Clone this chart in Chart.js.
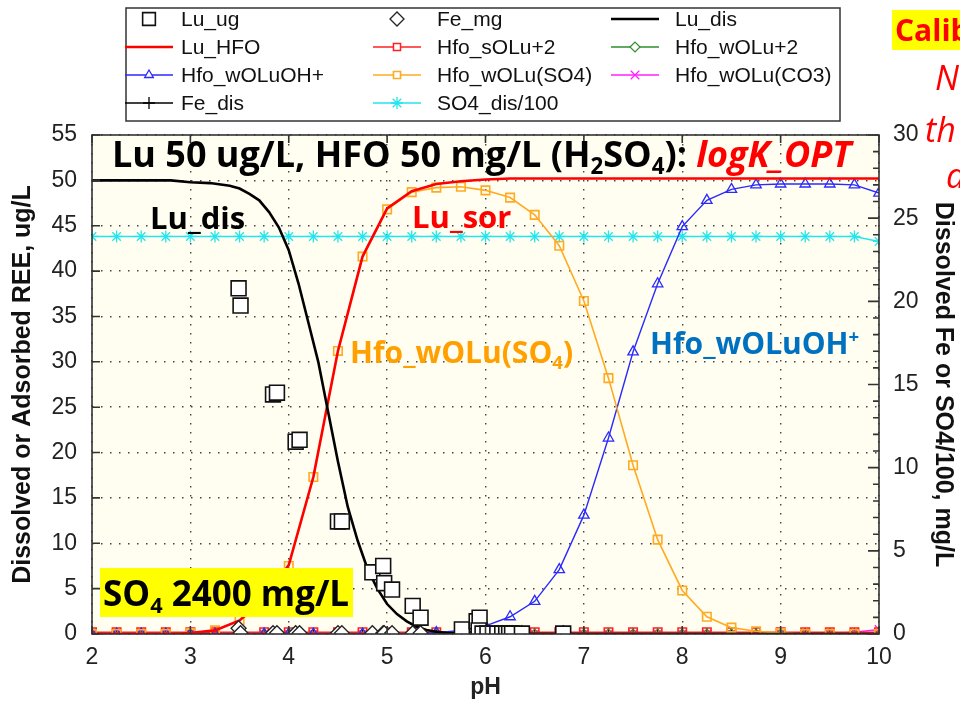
<!DOCTYPE html>
<html>
<head>
<meta charset="utf-8">
<script src="https://cdn.jsdelivr.net/npm/chart.js@4.4.1/dist/chart.umd.min.js"></script>
<style>
html,body{margin:0;padding:0;background:#fff}
canvas{display:block}
</style>
</head>
<body>
<canvas id="chart" width="960" height="708"></canvas>
<script>
// model run, pH in 0.25 steps
const phModel=[2,2.25,2.5,2.75,3,3.25,3.5,3.75,4,4.25,4.5,4.75,5,5.25,5.5,5.75,6,6.25,6.5,6.75,7,7.25,7.5,7.75,8,8.25,8.5,8.75,9,9.25,9.5,9.75,10];
const luHfo=[0,0,0,0,0.1,0.4,1.5,3.8,7.6,17.3,31.2,41.6,46.9,48.8,49.6,49.9,50.1,50.2,50.2,50.2,50.2,50.2,50.2,50.2,50.2,50.2,50.2,50.2,50.2,50.2,50.2,50.2,50.2];
const hfoSOLu2=[0.2,0.2,0.2,0.2,0.2,0.2,0.2,0.2,0.2,0.2,0.2,0.2,0.2,0.2,0.2,0.2,0.2,0.2,0.2,0.2,0.2,0.2,0.2,0.2,0.2,0.2,0.2,0.2,0.2,0.2,0.2,0.2,0.2];
const hfoWOLu2=[0,0,0,0,0,0,0,0,0,0,0,0,0,0,0,0,0,0,0,0,0,0,0,0,0,0,0,0,0,0,0,0,0];
const hfoWOLuOH=[0,0,0,0,0,0,0,0,0,0,0,0,0,0.05,0.15,0.4,0.9,1.9,3.6,7.1,13.1,21.6,31.1,38.6,44.9,47.8,49.0,49.5,49.6,49.6,49.6,49.5,48.6];
const hfoWOLuSO4=[0,0,0,0,0.1,0.4,1.5,3.8,7.5,17.3,31.2,41.6,46.8,48.7,49.2,49.3,48.9,48.1,46.2,42.8,36.7,28.2,18.6,10.4,4.8,1.9,0.7,0.3,0.1,0,0,0,0];
const hfoWOLuCO3=[0,0,0,0,0,0,0,0,0,0,0,0,0,0,0,0,0,0,0,0,0,0,0,0,0,0,0,0,0,0,0.05,0.2,0.5];
const so4Dis100=[23.9,23.9,23.9,23.9,23.9,23.9,23.9,23.9,23.9,23.9,23.9,23.9,23.9,23.9,23.9,23.9,23.9,23.9,23.9,23.9,23.9,23.9,23.9,23.9,23.9,23.9,23.9,23.9,23.9,23.9,23.9,23.9,23.6];
const feDis=[0,0,0,0,0,0,0,0,0,0,0,0,0,0,0,0,0,0,0,0,0,0,0,0,0,0,0,0,0,0,0,0,0];

// dissolved Lu, finer steps through the edge
const phDis=[2,2.5,2.8,3.0,3.2,3.4,3.5,3.6,3.7,3.8,3.9,4.0,4.1,4.2,4.3,4.4,4.5,4.6,4.7,4.8,4.9,5.0,5.1,5.2,5.3,5.4,5.5,5.6,5.8,6,7,8,9,10];
const luDis=[50,50,50,49.8,49.7,49.4,49.1,48.5,47.8,46.5,44.8,42.3,38.6,34.3,30.0,24.5,19.0,14.0,10.3,7.2,5.0,3.3,2.2,1.4,0.8,0.45,0.25,0.12,0.05,0.02,0,0,0,0];

// measured samples
const phLab=[3.49,3.51,3.84,3.88,4.07,4.11,4.50,4.54,4.85,4.96,4.97,5.05,5.26,5.34,5.76,5.91,5.94,5.93,5.97,6.02,6.12,6.17,6.21,6.24,6.27,6.37,6.79];
const luUg=[38.1,36.2,26.4,26.6,21.2,21.4,12.4,12.4,6.8,7.5,5.6,4.9,3.1,1.8,0.5,1.4,1.8,0.4,0.05,0.05,0.05,0.05,0.05,0.05,0.05,0.05,0.05];
const feMg=[0.35,0.05,0.05,0.05,0.05,0.05,0.05,0.05,0.05,0.05,0.05,0.05,0.05,0.05,0.05,0.05,0.05,0.05,0.05,0.05,0.05,0.05,0.05,0.05,0.05,0.05,0.05];

const xTicks=[2,3,4,5,6,7,8,9,10];
const legendOrder=['Lu_ug','Fe_mg','Lu_dis','Lu_HFO','Hfo_sOLu+2','Hfo_wOLu+2','Hfo_wOLuOH+','Hfo_wOLu(SO4)','Hfo_wOLu(CO3)','Fe_dis','SO4_dis/100'];

const pts=(xs,ys)=>xs.map((x,i)=>({x:x,y:ys[i]}));
const ARIAL='"Liberation Sans", Arial, sans-serif';
const CAL='"Open Sans", sans-serif';

const datasets=[
  {label:'Lu_ug',data:pts(phLab,luUg),showLine:false,pointStyle:'rect',pointRadius:10.5,borderColor:'#111',backgroundColor:'#fff',pointBorderWidth:1.6,legendR:9},
  {label:'Fe_mg',data:pts(phLab,feMg),yAxisID:'y2',showLine:false,pointStyle:'rectRot',pointRadius:7.5,borderColor:'#222',backgroundColor:'#fff',pointBorderWidth:1.3,legendR:7},
  {label:'Lu_dis',data:pts(phDis,luDis),borderColor:'#000',borderWidth:2.6,pointRadius:0},
  {label:'Lu_HFO',data:pts(phModel,luHfo),borderColor:'#ff0000',borderWidth:2.6,pointRadius:0},
  {label:'Hfo_wOLu(SO4)',data:pts(phModel,hfoWOLuSO4),borderColor:'#ffaa22',borderWidth:1.6,pointStyle:'rect',pointRadius:6,backgroundColor:'rgba(0,0,0,0)',pointBorderWidth:1.6,legendR:5},
  {label:'Hfo_wOLuOH+',data:pts(phModel,hfoWOLuOH),borderColor:'#2a2aff',borderWidth:1.4,pointStyle:'triangle',pointRadius:6,backgroundColor:'rgba(0,0,0,0)',pointBorderWidth:1.3,legendR:5},
  {label:'SO4_dis/100',data:pts(phModel,so4Dis100),yAxisID:'y2',borderColor:'#22e5ee',borderWidth:1.6,pointStyle:'star',pointRadius:6,backgroundColor:'rgba(0,0,0,0)',pointBorderWidth:1.3,legendR:6},
  {label:'Hfo_sOLu+2',data:pts(phModel,hfoSOLu2),borderColor:'#ff2020',borderWidth:1.6,pointStyle:'rect',pointRadius:6,backgroundColor:'rgba(0,0,0,0)',pointBorderWidth:1.5,legendR:5},
  {label:'Hfo_wOLu+2',data:pts(phModel,hfoWOLu2),borderColor:'#2f8f2f',borderWidth:1.4,pointStyle:'rectRot',pointRadius:5,backgroundColor:'rgba(0,0,0,0)',pointBorderWidth:1.2,legendR:5},
  {label:'Hfo_wOLu(CO3)',data:pts(phModel,hfoWOLuCO3),borderColor:'#ff22ff',borderWidth:1.4,pointStyle:'crossRot',pointRadius:6,backgroundColor:'rgba(0,0,0,0)',pointBorderWidth:1.3,legendR:6},
  {label:'Fe_dis',data:pts(phModel,feDis),yAxisID:'y2',borderColor:'#000',borderWidth:1.6,pointStyle:'cross',pointRadius:6,backgroundColor:'rgba(0,0,0,0)',pointBorderWidth:1.3,legendR:6}
];
datasets.forEach(d=>{d.pointBackgroundColor=d.backgroundColor;d.pointBorderColor=d.borderColor;d.tension=0;d.fill=false;});

// cream plot background
const plotBg={id:'plotBg',beforeDraw(c){const a=c.chartArea,ctx=c.ctx;ctx.save();ctx.fillStyle='#fffef0';ctx.fillRect(a.left,a.top,a.right-a.left,a.bottom-a.top);ctx.restore();}};

// frame with inward tick marks
const frame={id:'frame',afterDatasetsDraw(c){
  const a=c.chartArea,ctx=c.ctx,sx=c.scales.x,sy=c.scales.y,sy2=c.scales.y2;
  ctx.save();
  ctx.strokeStyle='#333';ctx.lineWidth=1.6;
  ctx.strokeRect(a.left,a.top,a.right-a.left,a.bottom-a.top);
  ctx.beginPath();
  xTicks.forEach(v=>{const px=sx.getPixelForValue(v);ctx.moveTo(px,a.bottom);ctx.lineTo(px,a.bottom-8);ctx.moveTo(px,a.top);ctx.lineTo(px,a.top+8);});
  for(let v=0;v<=55;v+=5){const py=sy.getPixelForValue(v);ctx.moveTo(a.left,py);ctx.lineTo(a.left+8,py);}
  for(let v=0;v<=30;v++){const py=sy2.getPixelForValue(v);const l=v%5===0?11:6;ctx.moveTo(a.right,py);ctx.lineTo(a.right-l,py);}
  ctx.stroke();
  ctx.restore();
}};

function rich(ctx,x,y,size,parts){
  let cx=x;
  parts.forEach(p=>{
    const s=p.m?size*0.62:size;
    ctx.font=(p.st||'bold')+' '+s+'px '+CAL;
    const dy=p.m==='sub'?size*0.2:p.m==='sup'?-size*0.38:0;
    ctx.fillStyle=p.c||'#000';
    ctx.fillText(p.t,cx,y+dy);
    cx+=ctx.measureText(p.t).width;
  });
  return cx;
}

const notes={id:'notes',afterDraw(c){
  const ctx=c.ctx;
  ctx.save();
  ctx.textBaseline='alphabetic';ctx.textAlign='left';
  // legend box
  ctx.fillStyle='#fff';ctx.fillRect(126,8,714,113);
  ctx.strokeStyle='#333';ctx.lineWidth=1.5;ctx.strokeRect(126,8,714,113);
  const symX=[149,397,635],labX=[181,437,675];
  legendOrder.forEach((lab,i)=>{
    const ds=datasets.find(d=>d.label===lab);
    const col=i%3,row=Math.floor(i/3);
    const cx=symX[col],cy=19+row*28;
    ctx.strokeStyle=ds.borderColor;
    if(ds.showLine!==false){ctx.lineWidth=ds.borderWidth;ctx.beginPath();ctx.moveTo(cx-24,cy);ctx.lineTo(cx+24,cy);ctx.stroke();}
    if(ds.legendR){
      ctx.fillStyle=ds.backgroundColor==='rgba(0,0,0,0)'?'#fff':ds.backgroundColor;
      ctx.lineWidth=ds.pointBorderWidth;
      Chart.helpers.drawPoint(ctx,{pointStyle:ds.pointStyle,rotation:0,radius:ds.legendR,borderWidth:ds.pointBorderWidth},cx,cy);
    }
    ctx.fillStyle='#111';ctx.font='21px '+ARIAL;
    ctx.fillText(lab,labX[col],cy+7);
  });

  // title line
  rich(ctx,112,167,36,[{t:'Lu 50 ug/L, HFO 50 mg/L (H'},{t:'2',m:'sub'},{t:'SO'},{t:'4',m:'sub'},{t:'): '},{t:'logK_OPT',c:'#ff0000',st:'italic bold'}]);
  rich(ctx,150,229,31,[{t:'Lu_dis'}]);
  rich(ctx,412,228,31,[{t:'Lu_sor',c:'#ff0000'}]);
  rich(ctx,350,363,30,[{t:'Hfo_wOLu(SO',c:'#ffa000'},{t:'4',m:'sub',c:'#ffa000'},{t:')',c:'#ffa000'}]);
  rich(ctx,650,354,30,[{t:'Hfo_wOLuOH',c:'#0070c0'},{t:'+',m:'sup',c:'#0070c0'}]);

  // sulfate box
  ctx.fillStyle='#ffff00';ctx.fillRect(100,568,253,49);
  rich(ctx,103,606,35,[{t:'SO'},{t:'4',m:'sub'},{t:' 2400 mg/L'}]);

  // side notes running off the page
  ctx.fillStyle='#ffff00';ctx.fillRect(892,10,68,40);
  rich(ctx,895,41,30,[{t:'Calib',c:'#ff0000'}]);
  rich(ctx,935,90,34,[{t:'N',c:'#ff0000',st:'italic'}]);
  rich(ctx,925,142,34,[{t:'th',c:'#ff0000',st:'italic'}]);
  rich(ctx,946,188,34,[{t:'d',c:'#ff0000',st:'italic'}]);
  ctx.restore();
}};

const gridOpts={color:'#444',lineWidth:1.4,drawTicks:false};
const dotted={display:false,dash:[1.5,7.5]};
const tickFont={family:ARIAL,size:23};
const titleFont={family:ARIAL,size:25,weight:'bold'};

new Chart(document.getElementById('chart'),{
  type:'line',
  data:{datasets:datasets},
  options:{
    responsive:false,animation:false,events:[],
    layout:{padding:{top:135,left:0,right:0,bottom:0}},
    plugins:{legend:{display:false},tooltip:{enabled:false}},
    scales:{
      x:{type:'linear',min:2,max:10,position:'bottom',
        ticks:{stepSize:1,color:'#222',font:tickFont,padding:10},
        grid:gridOpts,border:dotted,
        title:{display:true,text:'pH',color:'#222',font:{family:ARIAL,size:23,weight:'bold'},padding:{top:0,bottom:7}},
        afterFit(s){s.height=74;}},
      y:{min:0,max:55,position:'left',
        ticks:{stepSize:5,color:'#222',font:tickFont,padding:15},
        grid:gridOpts,border:dotted,
        title:{display:true,text:'Dissolved or Adsorbed REE, ug/L',color:'#111',font:titleFont,padding:{top:8,bottom:0}},
        afterFit(s){s.width=92;}},
      y2:{min:0,max:30,position:'right',
        ticks:{stepSize:1,color:'#222',font:tickFont,padding:14,autoSkip:false,callback:v=>v%5===0?v:''},
        grid:{display:false,drawTicks:false},border:{display:false},
        title:{display:true,text:'Dissolved Fe or SO4/100, mg/L',color:'#111',font:titleFont,padding:{top:2,bottom:0}},
        afterFit(s){s.width=81;}}
    }
  },
  plugins:[plotBg,frame,notes]
});
</script>
</body>
</html>
